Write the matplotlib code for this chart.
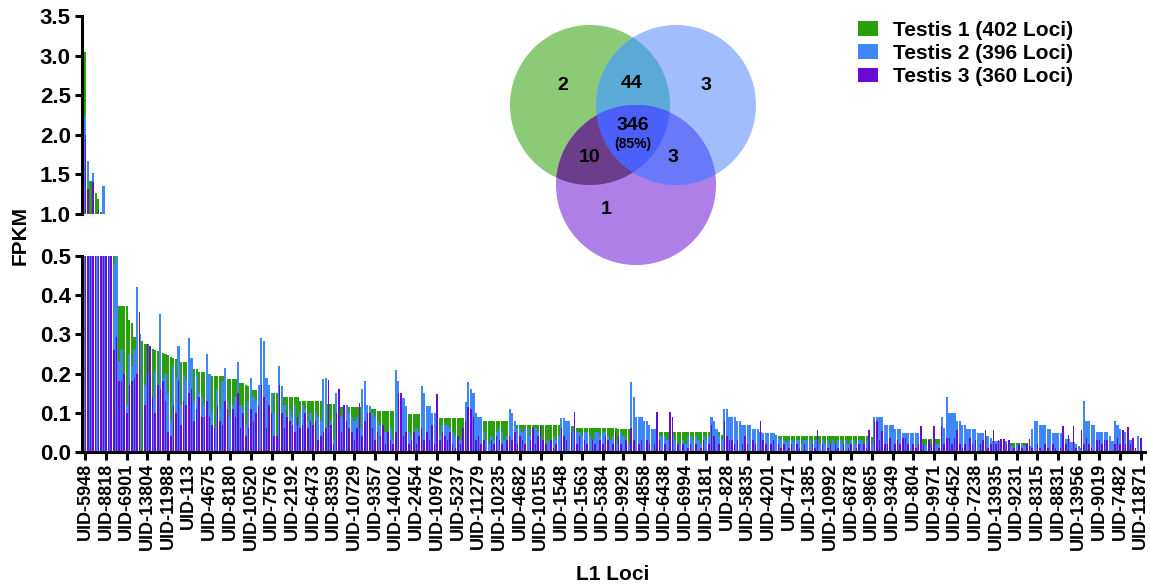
import matplotlib
matplotlib.use("Agg")
import matplotlib.pyplot as plt
from matplotlib.patches import Polygon
import numpy as np

plt.rcParams["font.family"] = ["Liberation Sans", "DejaVu Sans"]
plt.rcParams["font.weight"] = "bold"

# FPKM per locus, loci sorted by Testis 1 value
testis1 = [
    3.05, 1.55, 1.42, 1.35, 1.27, 1.19, 1.02, 0.95, 0.80, 0.70,
    0.55, 0.50, 0.434, 0.372, 0.372, 0.372, 0.372, 0.337, 0.328, 0.293,
    0.293, 0.284, 0.284, 0.275, 0.275, 0.264, 0.264, 0.260, 0.257, 0.255,
    0.252, 0.250, 0.247, 0.243, 0.240, 0.236, 0.230, 0.230, 0.230, 0.230,
    0.213, 0.213, 0.213, 0.213, 0.203, 0.203, 0.203, 0.203, 0.195, 0.195,
    0.195, 0.195, 0.195, 0.195, 0.195, 0.185, 0.185, 0.185, 0.185, 0.180,
    0.177, 0.175, 0.172, 0.169, 0.167, 0.158, 0.158, 0.158, 0.158, 0.158,
    0.150, 0.150, 0.150, 0.150, 0.150, 0.141, 0.141, 0.141, 0.141, 0.141,
    0.141, 0.141, 0.141, 0.131, 0.131, 0.131, 0.131, 0.131, 0.131, 0.131,
    0.131, 0.131, 0.131, 0.122, 0.122, 0.122, 0.122, 0.122, 0.122, 0.116,
    0.116, 0.116, 0.115, 0.115, 0.115, 0.115, 0.114, 0.114, 0.114, 0.114,
    0.110, 0.110, 0.110, 0.105, 0.105, 0.105, 0.105, 0.105, 0.105, 0.105,
    0.105, 0.096, 0.096, 0.096, 0.096, 0.096, 0.096, 0.096, 0.096, 0.096,
    0.087, 0.087, 0.087, 0.087, 0.087, 0.087, 0.087, 0.087, 0.087, 0.087,
    0.087, 0.087, 0.087, 0.087, 0.087, 0.087, 0.087, 0.087, 0.078, 0.078,
    0.078, 0.078, 0.078, 0.078, 0.078, 0.078, 0.078, 0.078, 0.078, 0.078,
    0.078, 0.078, 0.078, 0.078, 0.078, 0.078, 0.078, 0.068, 0.068, 0.068,
    0.068, 0.068, 0.068, 0.068, 0.068, 0.068, 0.068, 0.068, 0.068, 0.068,
    0.068, 0.068, 0.068, 0.068, 0.066, 0.066, 0.066, 0.066, 0.066, 0.066,
    0.060, 0.060, 0.060, 0.060, 0.060, 0.060, 0.060, 0.060, 0.060, 0.060,
    0.060, 0.060, 0.060, 0.060, 0.060, 0.060, 0.058, 0.058, 0.058, 0.058,
    0.058, 0.052, 0.052, 0.052, 0.052, 0.052, 0.052, 0.052, 0.052, 0.052,
    0.052, 0.052, 0.052, 0.050, 0.050, 0.050, 0.050, 0.050, 0.050, 0.050,
    0.050, 0.050, 0.050, 0.050, 0.050, 0.050, 0.050, 0.050, 0.050, 0.050,
    0.050, 0.050, 0.050, 0.050, 0.050, 0.050, 0.043, 0.043, 0.043, 0.043,
    0.043, 0.043, 0.043, 0.043, 0.043, 0.043, 0.043, 0.043, 0.043, 0.043,
    0.043, 0.043, 0.043, 0.043, 0.043, 0.043, 0.043, 0.043, 0.042, 0.042,
    0.042, 0.042, 0.042, 0.042, 0.042, 0.042, 0.042, 0.042, 0.042, 0.042,
    0.042, 0.042, 0.042, 0.042, 0.042, 0.042, 0.042, 0.042, 0.042, 0.042,
    0.042, 0.042, 0.042, 0.042, 0.042, 0.042, 0.042, 0.042, 0.042, 0.042,
    0.042, 0.042, 0.042, 0.042, 0.038, 0.038, 0.038, 0.038, 0.038, 0.033,
    0.033, 0.033, 0.033, 0.033, 0.033, 0.033, 0.033, 0.033, 0.033, 0.033,
    0.033, 0.033, 0.033, 0.033, 0.033, 0.033, 0.033, 0.033, 0.033, 0.033,
    0.033, 0.033, 0.026, 0.026, 0.026, 0.026, 0.026, 0.026, 0.026, 0.026,
    0.026, 0.026, 0.026, 0.026, 0.026, 0.026, 0.026, 0.026, 0.026, 0.026,
    0.024, 0.024, 0.024, 0.024, 0.024, 0.024, 0.024, 0.024, 0.024, 0.024,
    0.024, 0.024, 0.024, 0.024, 0.024, 0.015, 0.015, 0.015, 0.015, 0.015,
    0.015, 0.015, 0.015, 0.015, 0.015, 0.015, 0.015, 0.015, 0.015, 0.015,
    0.015, 0.015, 0.015, 0.015, 0.015, 0.007, 0.007, 0.007, 0.007, 0.007,
    0.007, 0.007, 0.007, 0.007, 0.007, 0.007, 0.007, 0.005, 0.005, 0.005,
    0.005, 0.005, 0.0, 0.0, 0.0, 0.0, 0.0, 0.0, 0.0,
]
testis2 = [
    2.25, 1.67, 0.90, 1.52, 0.85, 0.75, 0.70, 1.35, 0.65, 0.60,
    0.55, 0.48, 0.50, 0.23, 0.26, 0.20, 0.12, 0.25, 0.22, 0.26,
    0.42, 0.30, 0.0, 0.17, 0.20, 0.12, 0.14, 0.21, 0.13, 0.352,
    0.19, 0.20, 0.15, 0.08, 0.22, 0.19, 0.27, 0.12, 0.20, 0.18,
    0.29, 0.24, 0.13, 0.20, 0.15, 0.14, 0.12, 0.25, 0.20, 0.10,
    0.06, 0.16, 0.11, 0.18, 0.215, 0.13, 0.09, 0.12, 0.14, 0.23,
    0.12, 0.11, 0.07, 0.13, 0.19, 0.14, 0.13, 0.17, 0.29, 0.284,
    0.19, 0.17, 0.15, 0.10, 0.04, 0.22, 0.168, 0.12, 0.07, 0.11,
    0.09, 0.12, 0.07, 0.10, 0.12, 0.11, 0.08, 0.10, 0.07, 0.10,
    0.09, 0.08, 0.185, 0.19, 0.06, 0.08, 0.03, 0.15, 0.05, 0.09,
    0.11, 0.12, 0.10, 0.09, 0.08, 0.09, 0.06, 0.16, 0.18, 0.12,
    0.118, 0.10, 0.09, 0.08, 0.07, 0.06, 0.05, 0.04, 0.06, 0.03,
    0.209, 0.18, 0.15, 0.138, 0.118, 0.05, 0.04, 0.03, 0.06, 0.05,
    0.169, 0.15, 0.118, 0.118, 0.10, 0.10, 0.05, 0.04, 0.07, 0.07,
    0.07, 0.06, 0.05, 0.04, 0.03, 0.03, 0.05, 0.128, 0.179, 0.16,
    0.15, 0.10, 0.09, 0.09, 0.05, 0.03, 0.02, 0.04, 0.03, 0.05,
    0.06, 0.05, 0.03, 0.04, 0.109, 0.10, 0.08, 0.06, 0.06, 0.05,
    0.06, 0.06, 0.04, 0.05, 0.06, 0.05, 0.04, 0.03, 0.02, 0.03,
    0.02, 0.04, 0.03, 0.04, 0.088, 0.088, 0.08, 0.08, 0.05, 0.06,
    0.05, 0.05, 0.04, 0.05, 0.05, 0.04, 0.03, 0.05, 0.05, 0.04,
    0.05, 0.05, 0.04, 0.03, 0.04, 0.03, 0.02, 0.05, 0.04, 0.03,
    0.02, 0.179, 0.14, 0.089, 0.089, 0.089, 0.079, 0.079, 0.069, 0.059,
    0.059, 0.05, 0.04, 0.04, 0.04, 0.03, 0.04, 0.04, 0.03, 0.02,
    0.02, 0.03, 0.02, 0.04, 0.04, 0.03, 0.04, 0.03, 0.02, 0.04,
    0.03, 0.04, 0.089, 0.079, 0.059, 0.04, 0.03, 0.11, 0.11, 0.089,
    0.089, 0.089, 0.079, 0.079, 0.069, 0.069, 0.069, 0.069, 0.059, 0.059,
    0.059, 0.05, 0.048, 0.048, 0.048, 0.048, 0.048, 0.04, 0.035, 0.03,
    0.03, 0.025, 0.03, 0.03, 0.025, 0.03, 0.03, 0.02, 0.03, 0.03,
    0.03, 0.02, 0.03, 0.03, 0.02, 0.03, 0.02, 0.03, 0.02, 0.03,
    0.02, 0.03, 0.03, 0.02, 0.03, 0.02, 0.03, 0.03, 0.02, 0.03,
    0.03, 0.02, 0.03, 0.03, 0.02, 0.089, 0.089, 0.089, 0.089, 0.069,
    0.069, 0.069, 0.069, 0.059, 0.059, 0.059, 0.048, 0.048, 0.048, 0.048,
    0.048, 0.048, 0.048, 0.04, 0.02, 0.015, 0.02, 0.01, 0.015, 0.02,
    0.02, 0.089, 0.06, 0.14, 0.099, 0.099, 0.099, 0.079, 0.079, 0.069,
    0.069, 0.059, 0.059, 0.059, 0.059, 0.048, 0.048, 0.048, 0.04, 0.04,
    0.035, 0.029, 0.029, 0.029, 0.029, 0.029, 0.029, 0.015, 0.015, 0.01,
    0.02, 0.015, 0.02, 0.015, 0.02, 0.015, 0.059, 0.079, 0.079, 0.069,
    0.069, 0.069, 0.059, 0.059, 0.048, 0.048, 0.048, 0.048, 0.032, 0.032,
    0.032, 0.025, 0.025, 0.02, 0.01, 0.01, 0.13, 0.079, 0.079, 0.069,
    0.069, 0.05, 0.05, 0.05, 0.05, 0.05, 0.04, 0.029, 0.079, 0.069,
    0.059, 0.05, 0.05, 0.05, 0.03, 0.03, 0.0, 0.04, 0.02,
]
testis3 = [
    2.00, 1.32, 0.85, 1.41, 0.80, 1.05, 0.70, 0.75, 0.60, 0.55,
    0.52, 0.26, 0.293, 0.18, 0.18, 0.20, 0.10, 0.17, 0.18, 0.19,
    0.20, 0.356, 0.0, 0.12, 0.275, 0.27, 0.14, 0.10, 0.17, 0.16,
    0.18, 0.13, 0.05, 0.04, 0.12, 0.10, 0.18, 0.07, 0.13, 0.12,
    0.15, 0.16, 0.08, 0.11, 0.14, 0.09, 0.09, 0.13, 0.09, 0.07,
    0.06, 0.12, 0.08, 0.07, 0.13, 0.11, 0.0, 0.11, 0.09, 0.15,
    0.06, 0.10, 0.04, 0.06, 0.11, 0.08, 0.10, 0.12, 0.17, 0.14,
    0.06, 0.12, 0.10, 0.04, 0.04, 0.171, 0.10, 0.06, 0.09, 0.08,
    0.07, 0.05, 0.09, 0.06, 0.07, 0.10, 0.06, 0.08, 0.07, 0.08,
    0.03, 0.04, 0.05, 0.06, 0.183, 0.07, 0.02, 0.10, 0.16, 0.05,
    0.12, 0.08, 0.06, 0.05, 0.03, 0.06, 0.124, 0.04, 0.08, 0.10,
    0.10, 0.06, 0.03, 0.05, 0.04, 0.07, 0.02, 0.05, 0.03, 0.02,
    0.05, 0.15, 0.15, 0.04, 0.05, 0.02, 0.03, 0.05, 0.02, 0.04,
    0.06, 0.03, 0.05, 0.03, 0.07, 0.02, 0.148, 0.03, 0.05, 0.04,
    0.03, 0.05, 0.02, 0.01, 0.04, 0.02, 0.06, 0.08, 0.114, 0.11,
    0.09, 0.03, 0.04, 0.02, 0.03, 0.0, 0.0, 0.03, 0.02, 0.04,
    0.03, 0.02, 0.0, 0.03, 0.04, 0.03, 0.05, 0.02, 0.04, 0.03,
    0.02, 0.0, 0.03, 0.06, 0.02, 0.04, 0.068, 0.03, 0.02, 0.0,
    0.03, 0.01, 0.02, 0.0, 0.06, 0.04, 0.03, 0.0, 0.05, 0.102,
    0.02, 0.04, 0.0, 0.03, 0.02, 0.0, 0.03, 0.02, 0.0, 0.03,
    0.02, 0.04, 0.03, 0.0, 0.02, 0.05, 0.04, 0.02, 0.0, 0.03,
    0.0, 0.06, 0.03, 0.0, 0.02, 0.03, 0.0, 0.03, 0.02, 0.0,
    0.02, 0.103, 0.03, 0.0, 0.02, 0.0, 0.103, 0.089, 0.0, 0.02,
    0.0, 0.02, 0.0, 0.01, 0.02, 0.0, 0.02, 0.0, 0.01, 0.03,
    0.0, 0.02, 0.069, 0.04, 0.0, 0.02, 0.0, 0.079, 0.04, 0.03,
    0.03, 0.02, 0.03, 0.0, 0.02, 0.04, 0.02, 0.0, 0.03, 0.02,
    0.0, 0.079, 0.03, 0.02, 0.0, 0.02, 0.03, 0.0, 0.02, 0.01,
    0.02, 0.0, 0.01, 0.02, 0.0, 0.02, 0.01, 0.0, 0.02, 0.0,
    0.0, 0.02, 0.01, 0.055, 0.0, 0.02, 0.0, 0.01, 0.02, 0.0,
    0.02, 0.01, 0.0, 0.02, 0.0, 0.01, 0.02, 0.0, 0.01, 0.02,
    0.0, 0.02, 0.01, 0.055, 0.0, 0.079, 0.079, 0.03, 0.054, 0.02,
    0.02, 0.035, 0.0, 0.02, 0.03, 0.02, 0.035, 0.035, 0.02, 0.0,
    0.02, 0.01, 0.02, 0.067, 0.02, 0.0, 0.03, 0.02, 0.067, 0.0,
    0.01, 0.067, 0.02, 0.035, 0.035, 0.02, 0.035, 0.055, 0.02, 0.01,
    0.02, 0.0, 0.035, 0.02, 0.03, 0.0, 0.02, 0.03, 0.055, 0.01,
    0.02, 0.055, 0.02, 0.03, 0.034, 0.034, 0.02, 0.03, 0.0, 0.01,
    0.0, 0.02, 0.01, 0.0, 0.02, 0.034, 0.01, 0.0, 0.02, 0.01,
    0.0, 0.02, 0.01, 0.0, 0.02, 0.01, 0.0, 0.01, 0.067, 0.02,
    0.044, 0.0, 0.067, 0.01, 0.0, 0.055, 0.02, 0.035, 0.02, 0.01,
    0.0, 0.03, 0.03, 0.02, 0.03, 0.03, 0.0, 0.0, 0.02, 0.035,
    0.02, 0.055, 0.02, 0.064, 0.02, 0.035, 0.01, 0.0, 0.035,
]
tick_labels = [
    "UID-5948", "UID-8818", "UID-6901", "UID-13804", "UID-11988", "UID-113",
    "UID-4675", "UID-8180", "UID-10520", "UID-7576", "UID-2192", "UID-6473",
    "UID-8359", "UID-10729", "UID-9357", "UID-14002", "UID-2454", "UID-10976",
    "UID-5237", "UID-11279", "UID-10235", "UID-4682", "UID-10155", "UID-1548",
    "UID-1563", "UID-5384", "UID-9929", "UID-4858", "UID-6438", "UID-6994",
    "UID-5181", "UID-828", "UID-5835", "UID-4201", "UID-471", "UID-1385",
    "UID-10992", "UID-6878", "UID-9865", "UID-9349", "UID-804", "UID-9971",
    "UID-6452", "UID-7238", "UID-13935", "UID-9231", "UID-8315", "UID-8831",
    "UID-13956", "UID-9019", "UID-7482", "UID-11871",
]
series_names = ["Testis 1 (402 Loci)", "Testis 2 (396 Loci)", "Testis 3 (360 Loci)"]
colors = ["#29a00b", "#3f86f9", "#6a0ad6"]

# venn region counts
venn_counts = {"1": 2, "2": 3, "3": 1, "12": 44, "13": 10, "23": 3, "123": 346}
shared_pct = "(85%)"

W, H = 1150, 586
fig = plt.figure(figsize=(W / 100, H / 100), dpi=100)
left, right = 82 / W, 1145 / W
ax_top = fig.add_axes([left, 1 - 214 / H, right - left, (214 - 16) / H])
ax_low = fig.add_axes([left, 1 - 452 / H, right - left, (452 - 256) / H])

x = np.arange(len(testis1))
widths = [0.85, 0.85, 0.6]
for ax in (ax_top, ax_low):
    handles = []
    for vals, c, w in zip([testis1, testis2, testis3], colors, widths):
        h = ax.bar(x, vals, width=w, color=c, edgecolor="none")
        handles.append(h)
    ax.set_xlim(-1.3, 409.6)
    for s in ("top", "right"):
        ax.spines[s].set_visible(False)
    for s in ("left", "bottom"):
        ax.spines[s].set_linewidth(2.2)
    ax.tick_params(axis="y", width=2.2, length=5, labelsize=16, pad=3)

ax_top.set_ylim(1.0, 3.5)
ax_top.set_yticks(np.arange(1.0, 3.51, 0.5))
ax_top.set_yticklabels([f"{v:.1f}" for v in np.arange(1.0, 3.51, 0.5)])
ax_top.spines["bottom"].set_visible(False)
ax_top.set_xticks([])

ax_low.set_ylim(0, 0.5)
ax_low.set_yticks(np.arange(0, 0.51, 0.1))
ax_low.set_yticklabels([f"{v:.1f}" for v in np.arange(0, 0.51, 0.1)])
ax_low.set_xticks(np.arange(0, len(testis1), 8))
ax_low.set_xticklabels(tick_labels, rotation=90, fontsize=13)
ax_low.tick_params(axis="x", width=2.2, length=6, pad=2)

fig.text(20 / W, 1 - 235 / H, "FPKM", rotation=90, ha="center", va="center", fontsize=15)
fig.text(613 / W, 1 - 575 / H, "L1 Loci", ha="center", va="center", fontsize=15)

fig.legend(handles, series_names, loc="upper left", bbox_to_anchor=(858 / W, 1 - 21 / H),
           frameon=False, fontsize=15, handlelength=0.95, handleheight=0.72,
           handletextpad=0.75, labelspacing=0.2, borderpad=0, borderaxespad=0)

# venn diagram drawn in pixel coordinates
vax = fig.add_axes([0, 0, 1, 1])
vax.set_xlim(0, W)
vax.set_ylim(H, 0)
vax.axis("off")


def circle_pts(cx, cy, r, n=240):
    t = np.linspace(0, 2 * np.pi, n, endpoint=False)
    return [(cx + r * np.cos(a), cy + r * np.sin(a)) for a in t]


def clip_poly(subject, clip):
    def inside(p, a, b):
        return (b[0] - a[0]) * (p[1] - a[1]) - (b[1] - a[1]) * (p[0] - a[0]) >= 0

    def cross_pt(s, e, a, b):
        dc = (a[0] - b[0], a[1] - b[1])
        dp = (s[0] - e[0], s[1] - e[1])
        n1 = a[0] * b[1] - a[1] * b[0]
        n2 = s[0] * e[1] - s[1] * e[0]
        d = dc[0] * dp[1] - dc[1] * dp[0]
        return ((n1 * dp[0] - n2 * dc[0]) / d, (n1 * dp[1] - n2 * dc[1]) / d)

    out = subject
    for i in range(len(clip)):
        a, b = clip[i - 1], clip[i]
        inp, out = out, []
        if not inp:
            break
        s = inp[-1]
        for e in inp:
            if inside(e, a, b):
                if not inside(s, a, b):
                    out.append(cross_pt(s, e, a, b))
                out.append(e)
            elif inside(s, a, b):
                out.append(cross_pt(s, e, a, b))
            s = e
    return out


r = 80
eg = circle_pts(590, 105, r)
eb = circle_pts(676, 105, r)
ep = circle_pts(636, 185, r)
gb = clip_poly(eg, eb)
gp = clip_poly(eg, ep)
bp = clip_poly(eb, ep)
gbp = clip_poly(gb, ep)
regions = [(eg, "#8bcb78"), (eb, "#a2bdfb"), (ep, "#ad7fe7"), (gb, "#5ba9d6"),
           (gp, "#6b3d8b"), (bp, "#6a79f9"), (gbp, "#4b5ffa")]
for pts, c in regions:
    vax.add_patch(Polygon(pts, closed=True, facecolor=c, edgecolor="none"))

venn_pos = {"1": (563, 86), "2": (706, 86), "3": (606, 210), "12": (632, 83),
            "13": (590, 158), "23": (673, 157), "123": (633, 125)}
for k, (px, py) in venn_pos.items():
    vax.text(px, py, str(venn_counts[k]), ha="center", va="center", fontsize=14)
vax.text(633, 144, shared_pct, ha="center", va="center", fontsize=10)

fig.savefig("out.png", dpi=100)
